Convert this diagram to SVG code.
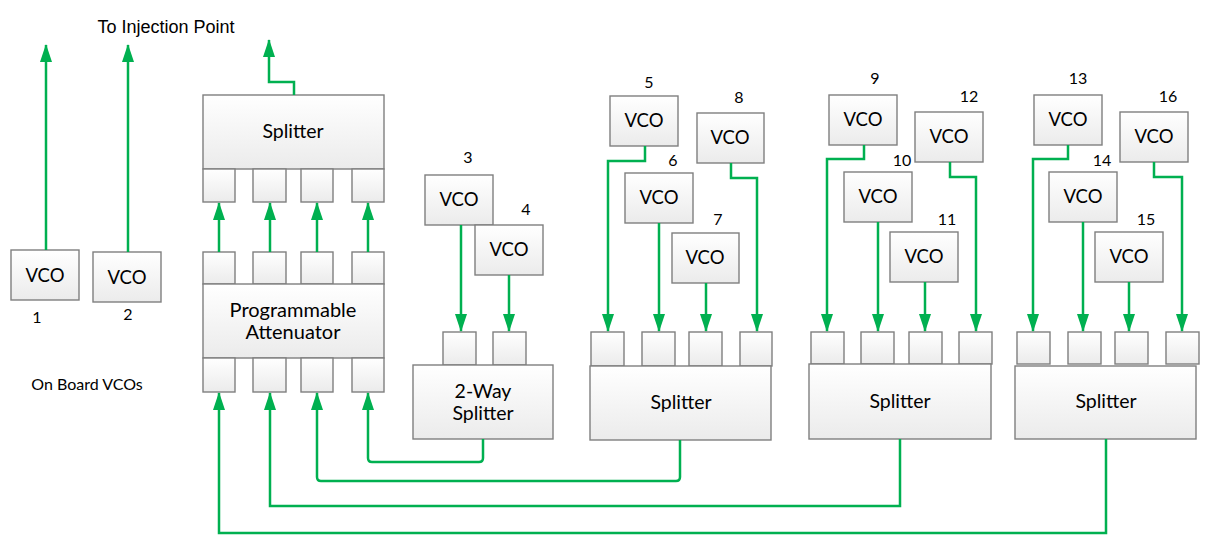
<svg xmlns="http://www.w3.org/2000/svg" width="1212" height="552" viewBox="0 0 1212 552">
<defs>
<linearGradient id="g" x1="0" y1="0" x2="0" y2="1"><stop offset="0" stop-color="#ffffff"/><stop offset="1" stop-color="#ebebeb"/></linearGradient>
<marker id="ah" markerUnits="userSpaceOnUse" markerWidth="18" markerHeight="12" refX="17" refY="6" orient="auto"><path d="M0,0 L18,6 L0,12 z" fill="#00B050"/></marker>
</defs>
<style>
.b{fill:url(#g);stroke:#7f7f7f;stroke-width:1.4}
.t{font-family:Lato,"Open Sans",sans-serif;font-size:19.5px;fill:#000;text-anchor:middle}
.v{font-family:Lato,"Open Sans",sans-serif;font-size:18.5px;fill:#000;text-anchor:middle}
.n{font-family:Lato,"Open Sans",sans-serif;font-size:16px;fill:#000;text-anchor:middle}
.c{fill:none;stroke:#00B050;stroke-width:2.5;marker-end:url(#ah)}
</style>
<rect width="1212" height="552" fill="#fff"/>
<text x="166" y="33" style="font-family:'Liberation Sans',Arial,sans-serif;font-size:18px;text-anchor:middle">To Injection Point</text>
<text x="87" y="390" style="font-family:Lato,sans-serif;font-size:16px;text-anchor:middle">On Board VCOs</text>

<g id="vco1"><rect class="b" x="11" y="250" width="68" height="50"/><text class="v" x="45" y="282">VCO</text><text class="n" x="37" y="323">1</text></g>
<g id="vco2"><rect class="b" x="93" y="252" width="68" height="50"/><text class="v" x="127" y="284">VCO</text><text class="n" x="128" y="320">2</text></g>

<g id="splitter-top"><rect class="b" x="203" y="95" width="181" height="74"/><text class="t" x="293" y="138">Splitter</text>
<rect class="b" x="203" y="169" width="32" height="33"/><rect class="b" x="253" y="169" width="33" height="33"/><rect class="b" x="301" y="169" width="32" height="33"/><rect class="b" x="352" y="169" width="32" height="33"/></g>

<g id="attenuator"><rect class="b" x="203" y="252" width="32" height="32"/><rect class="b" x="253" y="252" width="33" height="32"/><rect class="b" x="301" y="252" width="32" height="32"/><rect class="b" x="352" y="252" width="32" height="32"/>
<rect class="b" x="203" y="284" width="181" height="74"/><text class="t" x="293" y="317" style="font-size:20px">Programmable</text><text class="t" x="293" y="339" style="font-size:20px">Attenuator</text>
<rect class="b" x="203" y="358" width="32" height="34"/><rect class="b" x="253" y="358" width="33" height="34"/><rect class="b" x="301" y="358" width="32" height="34"/><rect class="b" x="352" y="358" width="32" height="34"/></g>

<g id="splitter-2way"><rect class="b" x="443" y="332" width="33" height="33"/><rect class="b" x="493" y="332" width="33" height="33"/>
<rect class="b" x="413" y="365" width="140" height="74"/><text class="t" x="483" y="398">2-Way</text><text class="t" x="483" y="420">Splitter</text></g>

<g id="splitter-a"><rect class="b" x="591" y="332" width="33" height="34"/><rect class="b" x="642" y="332" width="33" height="34"/><rect class="b" x="689" y="332" width="33" height="34"/><rect class="b" x="740" y="332" width="32" height="34"/>
<rect class="b" x="590" y="366" width="181" height="74"/><text class="t" x="681" y="409">Splitter</text></g>

<g id="splitter-b"><rect class="b" x="811" y="332" width="33" height="32"/><rect class="b" x="861" y="332" width="33" height="32"/><rect class="b" x="909" y="332" width="33" height="32"/><rect class="b" x="959" y="332" width="33" height="32"/>
<rect class="b" x="809" y="364" width="182" height="75"/><text class="t" x="900" y="408">Splitter</text></g>

<g id="splitter-c"><rect class="b" x="1017" y="332" width="33" height="32"/><rect class="b" x="1068" y="332" width="33" height="32"/><rect class="b" x="1115" y="332" width="33" height="32"/><rect class="b" x="1166" y="332" width="33" height="32"/>
<rect class="b" x="1015" y="366" width="181" height="73"/><text class="t" x="1106" y="408">Splitter</text></g>

<g id="vco3"><rect class="b" x="425" y="175" width="68" height="50"/><text class="v" x="459" y="206">VCO</text><text class="n" x="468" y="163">3</text></g>
<g id="vco4"><rect class="b" x="475" y="225" width="68" height="50"/><text class="v" x="509" y="256">VCO</text><text class="n" x="526" y="215">4</text></g>
<g id="vco5"><rect class="b" x="610" y="96" width="68" height="50"/><text class="v" x="644" y="127">VCO</text><text class="n" x="649" y="88">5</text></g>
<g id="vco6"><rect class="b" x="625" y="173" width="68" height="50"/><text class="v" x="659" y="204">VCO</text><text class="n" x="673" y="166">6</text></g>
<g id="vco7"><rect class="b" x="672" y="233" width="67" height="50"/><text class="v" x="705" y="264">VCO</text><text class="n" x="718" y="225">7</text></g>
<g id="vco8"><rect class="b" x="697" y="113" width="67" height="50"/><text class="v" x="730" y="144">VCO</text><text class="n" x="739" y="103">8</text></g>
<g id="vco9"><rect class="b" x="829" y="95" width="68" height="50"/><text class="v" x="863" y="126">VCO</text><text class="n" x="875" y="84">9</text></g>
<g id="vco10"><rect class="b" x="844" y="172" width="68" height="50"/><text class="v" x="878" y="203">VCO</text><text class="n" x="902" y="166">10</text></g>
<g id="vco11"><rect class="b" x="890" y="232" width="68" height="50"/><text class="v" x="924" y="263">VCO</text><text class="n" x="947" y="225">11</text></g>
<g id="vco12"><rect class="b" x="915" y="112" width="68" height="50"/><text class="v" x="949" y="143">VCO</text><text class="n" x="969" y="102">12</text></g>
<g id="vco13"><rect class="b" x="1034" y="95" width="68" height="50"/><text class="v" x="1068" y="126">VCO</text><text class="n" x="1078" y="84">13</text></g>
<g id="vco14"><rect class="b" x="1049" y="172" width="68" height="50"/><text class="v" x="1083" y="203">VCO</text><text class="n" x="1102" y="166">14</text></g>
<g id="vco15"><rect class="b" x="1095" y="232" width="68" height="50"/><text class="v" x="1129" y="263">VCO</text><text class="n" x="1146" y="225">15</text></g>
<g id="vco16"><rect class="b" x="1120" y="112" width="68" height="50"/><text class="v" x="1154" y="143">VCO</text><text class="n" x="1168" y="102">16</text></g>

<g id="connectors">
<path class="c" d="M46,250 V45"/>
<path class="c" d="M128,252 V45"/>
<path class="c" d="M294,95 V82 H269 V40"/>
<path class="c" d="M219,252 V203"/>
<path class="c" d="M270,252 V203"/>
<path class="c" d="M317,252 V203"/>
<path class="c" d="M368,252 V203"/>
<path class="c" d="M461,225 V331"/>
<path class="c" d="M509,275 V331"/>
<path class="c" d="M645,146 V161 H608 V331"/>
<path class="c" d="M659,223 V331"/>
<path class="c" d="M706,283 V331"/>
<path class="c" d="M731,163 V178 H757 V331"/>
<path class="c" d="M864,145 V159 H827 V331"/>
<path class="c" d="M878,222 V331"/>
<path class="c" d="M925,282 V331"/>
<path class="c" d="M950,162 V177 H976 V331"/>
<path class="c" d="M1068,145 V159 H1033 V331"/>
<path class="c" d="M1083,222 V331"/>
<path class="c" d="M1129,282 V331"/>
<path class="c" d="M1154,162 V177 H1182 V331"/>
<path class="c" d="M483,439 V458 Q483,462 479,462 H372 Q368,462 368,458 V393"/>
<path class="c" d="M680,440 V477 Q680,481 676,481 H321 Q317,481 317,477 V393"/>
<path class="c" d="M900,439 V506 H270 V393"/>
<path class="c" d="M1106,439 V533 H219 V393"/>
</g>
</svg>
